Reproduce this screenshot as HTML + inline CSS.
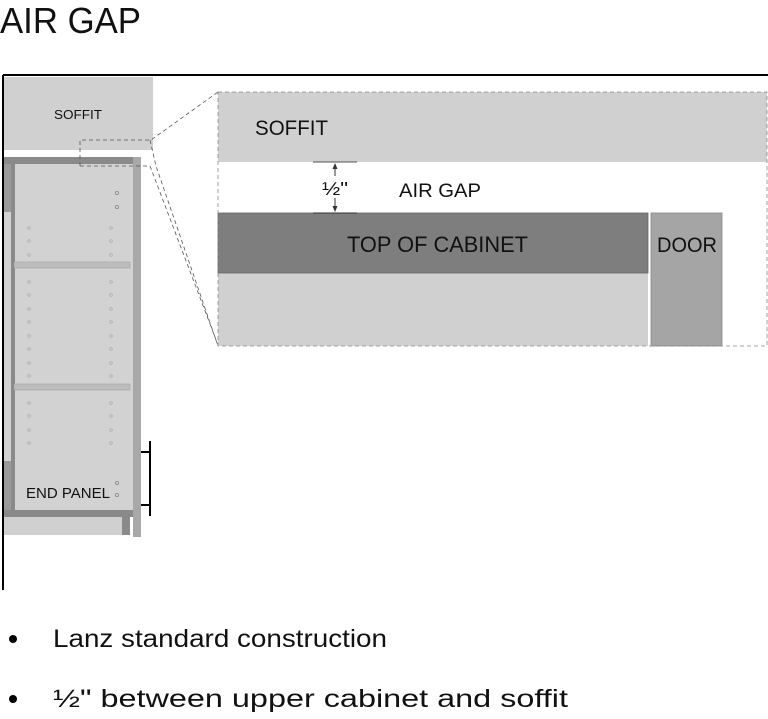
<!DOCTYPE html>
<html><head><meta charset="utf-8"><style>
html,body{margin:0;padding:0;background:#fff;}
svg{display:block;}
text{font-family:"Liberation Sans",sans-serif;fill:#111;}
</style></head><body>
<svg width="768" height="719" viewBox="0 0 768 719" xmlns="http://www.w3.org/2000/svg">
<text x="0" y="33" font-size="36" textLength="141" lengthAdjust="spacingAndGlyphs">AIR GAP</text>
<!-- frame lines -->
<line x1="3" y1="75" x2="768" y2="75" stroke="#000" stroke-width="2"/>
<line x1="3" y1="75" x2="3" y2="590" stroke="#000" stroke-width="2"/>
<!-- left soffit -->
<rect x="4" y="77" width="149" height="73" fill="#d0d0d0"/>
<text x="54" y="119" font-size="13" textLength="48" lengthAdjust="spacingAndGlyphs">SOFFIT</text>
<!-- cabinet -->
<rect x="4" y="157" width="129" height="360" fill="#d2d2d2"/>
<rect x="4" y="157" width="129" height="7" fill="#8a8a8a"/>
<rect x="4" y="164" width="7" height="48" fill="#9a9a9a"/>
<rect x="4" y="461" width="7" height="52" fill="#9a9a9a"/>
<rect x="11" y="160" width="4" height="353" fill="#8a8a8a"/>
<rect x="4" y="510" width="129" height="7" fill="#8a8a8a"/>
<rect x="4" y="517" width="118" height="18" fill="#d0d0d0"/>
<rect x="122" y="517" width="8" height="18" fill="#8a8a8a"/>
<rect x="133" y="157" width="8" height="380" fill="#a8a8a8"/>
<rect x="14" y="262" width="116" height="6" fill="#bdbdbd" stroke="#999" stroke-width="0.5"/>
<rect x="14" y="384" width="116" height="6" fill="#bdbdbd" stroke="#999" stroke-width="0.5"/>
<g fill="none" stroke="#888" stroke-width="0.8">
<circle cx="117" cy="193" r="1.6"/><circle cx="117" cy="207" r="1.6"/>
<circle cx="117" cy="483" r="1.6"/><circle cx="117" cy="495" r="1.6"/>
</g>
<g fill="none" stroke="#aaa" stroke-width="0.7">
<circle cx="29" cy="228" r="1.3"/><circle cx="111" cy="228" r="1.3"/>
<circle cx="29" cy="241" r="1.3"/><circle cx="111" cy="241" r="1.3"/>
<circle cx="29" cy="255" r="1.3"/><circle cx="111" cy="255" r="1.3"/>
<circle cx="29" cy="282" r="1.3"/><circle cx="111" cy="282" r="1.3"/>
<circle cx="29" cy="295" r="1.3"/><circle cx="111" cy="295" r="1.3"/>
<circle cx="29" cy="309" r="1.3"/><circle cx="111" cy="309" r="1.3"/>
<circle cx="29" cy="322" r="1.3"/><circle cx="111" cy="322" r="1.3"/>
<circle cx="29" cy="336" r="1.3"/><circle cx="111" cy="336" r="1.3"/>
<circle cx="29" cy="349" r="1.3"/><circle cx="111" cy="349" r="1.3"/>
<circle cx="29" cy="363" r="1.3"/><circle cx="111" cy="363" r="1.3"/>
<circle cx="29" cy="376" r="1.3"/><circle cx="111" cy="376" r="1.3"/>
<circle cx="29" cy="403" r="1.3"/><circle cx="111" cy="403" r="1.3"/>
<circle cx="29" cy="416" r="1.3"/><circle cx="111" cy="416" r="1.3"/>
<circle cx="29" cy="430" r="1.3"/><circle cx="111" cy="430" r="1.3"/>
<circle cx="29" cy="443" r="1.3"/><circle cx="111" cy="443" r="1.3"/>
</g>
<text x="26" y="498" font-size="15" textLength="84" lengthAdjust="spacingAndGlyphs">END PANEL</text>
<!-- handle -->
<line x1="150" y1="441" x2="150" y2="516" stroke="#000" stroke-width="2"/>
<line x1="141" y1="452" x2="150" y2="452" stroke="#000" stroke-width="2"/>
<line x1="141" y1="505" x2="150" y2="505" stroke="#000" stroke-width="2"/>
<!-- callout dashed -->
<g fill="none" stroke="#555" stroke-width="0.8" stroke-dasharray="4,3">
<path d="M80 166 V140 H151 L218 92"/>
<path d="M80 166 H150 L218 345"/>
<path d="M150 140 L156 166 L218 346"/>
</g>
<!-- right detail -->
<rect x="218" y="92" width="549" height="70" fill="#d0d0d0"/>
<text x="255" y="135" font-size="21" textLength="73" lengthAdjust="spacingAndGlyphs">SOFFIT</text>
<rect x="218" y="273" width="430" height="73" fill="#d0d0d0"/>
<rect x="218" y="213" width="430" height="60" fill="#7e7e7e" stroke="#666" stroke-width="0.8"/>
<text x="347" y="252" font-size="22" textLength="181" lengthAdjust="spacingAndGlyphs">TOP OF CABINET</text>
<rect x="651" y="213" width="71" height="133" fill="#a5a5a5" stroke="#888" stroke-width="0.8"/>
<text x="657" y="252" font-size="21" textLength="60" lengthAdjust="spacingAndGlyphs">DOOR</text>
<rect x="218" y="92" width="549" height="254" fill="none" stroke="#888" stroke-width="0.8" stroke-dasharray="4,3"/>
<!-- dimension -->
<line x1="313" y1="162" x2="357" y2="162" stroke="#555"/>
<line x1="313" y1="213" x2="357" y2="213" stroke="#333"/>
<line x1="335" y1="164" x2="335" y2="211" stroke="#333"/>
<path d="M335 163 l-2.5 6 h5 z M335 212 l-2.5 -6 h5 z" fill="#333"/>
<rect x="321" y="176" width="28" height="22" fill="#fff"/>
<text x="322" y="195" font-size="18" textLength="26" lengthAdjust="spacingAndGlyphs">½"</text>
<text x="399" y="197" font-size="19" textLength="82" lengthAdjust="spacingAndGlyphs">AIR GAP</text>
<!-- bullets -->
<circle cx="13" cy="639" r="4" fill="#000"/>
<circle cx="13" cy="699" r="4" fill="#000"/>
<text x="53" y="647" font-size="25" textLength="334" lengthAdjust="spacingAndGlyphs">Lanz standard construction</text>
<text x="53" y="707" font-size="25" textLength="515" lengthAdjust="spacingAndGlyphs">½" between upper cabinet and soffit</text>
</svg>
</body></html>
